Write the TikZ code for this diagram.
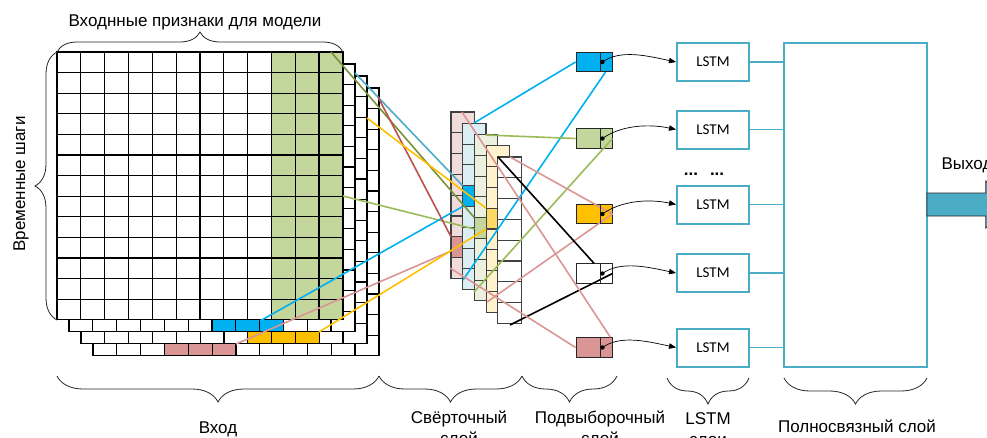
\documentclass[tikz,border=0pt]{standalone}
\usepackage{fontspec}
\setmainfont{Liberation Sans}
\newfontfamily\lstmfont{Carlito}
\usepackage{xcolor}
\usetikzlibrary{positioning,arrows.meta,decorations.pathreplacing}

\definecolor{cellgreen}{RGB}{195,214,155}
\definecolor{cellblue}{RGB}{0,176,240}
\definecolor{cellyellow}{RGB}{255,192,0}
\definecolor{cellpink}{RGB}{217,150,148}
\definecolor{lstmblue}{RGB}{75,172,198}
\definecolor{linkolive}{RGB}{119,147,60}
\definecolor{linkgreen}{RGB}{155,187,89}
\definecolor{linkred}{RGB}{192,80,77}
\definecolor{convpink}{RGB}{242,220,219}
\definecolor{convblue}{RGB}{218,238,243}
\definecolor{convgreen}{RGB}{235,241,222}
\definecolor{convyellow}{RGB}{255,242,204}
\definecolor{convgold}{RGB}{255,217,102}

\begin{document}
\begin{tikzpicture}[x=1pt,y=-1pt,font=\fontsize{17}{21}\selectfont]
    \tikzstyle{gridline}=[line width=1.3pt,black,line cap=rect]
    \tikzstyle{convline}=[line width=1.1pt,black!75]
    \tikzstyle{link}=[line width=1.6pt]
    \tikzstyle{poolbox}=[draw=black!85,line width=0.9pt,minimum width=36pt,minimum height=19.5pt,inner sep=0pt]
    \tikzstyle{lstmbox}=[draw=lstmblue,line width=2pt,minimum width=72pt,minimum height=38pt,font=\lstmfont\fontsize{15}{18}\selectfont]
    \tikzstyle{bracket}=[decorate,black!85,line width=0.8pt]
    \tikzstyle{caption}=[anchor=north,align=center,inner sep=0pt]

    \useasboundingbox (0,0) rectangle (987,437);
    \clip (0,0) rectangle (987,437);

    \def\cw{23.83}
    \def\ch{20.6}

    % input: four feature maps, back to front
    \foreach \k/\cfrom/\cto/\rfrom/\col in {3/3/5/12/cellpink, 2/7/9/12/cellyellow, 1/6/8/12/cellblue, 0/9/11/0/cellgreen} {
        \begin{scope}[shift={(12*\k,12*\k)}]
            \fill[white] (57,52) rectangle ({57+12*\cw},{52+13*\ch});
            \foreach \c in {\cfrom,...,\cto}
                \foreach \r in {\rfrom,...,12}
                    \fill[\col] ({57+\c*\cw},{52+\r*\ch}) rectangle ++(\cw,\ch);
            \foreach \c in {0,...,12}
                \draw[gridline] ({57+\c*\cw},52) -- ++(0,{13*\ch});
            \foreach \r in {0,...,13}
                \draw[gridline] (57,{52+\r*\ch}) -- ++({12*\cw},0);
        \end{scope}
    }

    % convolution stack
    \foreach \j/\fillc/\hrow/\hcol in {0/convpink/6/cellpink, 1/convblue/3/cellblue, 2/convgreen/4/cellgreen, 3/convyellow/3/convgold, 4/white/0/white} {
        \begin{scope}[shift={(11.7*\j,11.25*\j)}]
            \fill[\fillc] (451,112) rectangle ++(23.3,166.4);
            \fill[\hcol] (451,{112+\hrow*20.8}) rectangle ++(23.3,20.8);
            \foreach \r in {1,...,7}
                \draw[convline] (451,{112+\r*20.8}) -- ++(23.3,0);
            \draw[convline] (451,112) rectangle ++(23.3,166.4);
        \end{scope}
    }

    % pooling cells and LSTM blocks
    \foreach \i/\py/\ly/\pc in {1/62/62/cellblue, 2/138.5/129.5/cellgreen, 3/214/204.5/cellyellow, 4/273.5/273/white, 5/347.5/347.5/cellpink} {
        \node[poolbox,fill=\pc] (p\i) at (594,\py) {};
        \node[lstmbox] (l\i) at (713,\ly) {LSTM};
    }
    \node[draw=lstmblue,line width=1.5pt,minimum width=143pt,minimum height=324pt] (fc) at (855.5,205) {};
    \node[anchor=base] (dots) at (704,175) {\textbf{...}\hspace{12pt}\textbf{...}};

    % link end points on the maps
    \coordinate (ig1) at (331,52);
    \coordinate (ig2) at (343,196);
    \coordinate (ib1) at (355,73);
    \coordinate (ib2) at (260,321);
    \coordinate (ip1) at (378,97);
    \coordinate (ip2) at (236,344);
    \coordinate (iy1) at (367,118);
    \coordinate (iy2) at (319,332);

    \coordinate (cg1) at (474.4,217.7);
    \coordinate (cg2) at (474.4,229);
    \coordinate (cb1) at (462.7,185.7);
    \coordinate (cb2) at (462.7,206.5);
    \coordinate (cp1) at (451,236.8);
    \coordinate (cp2) at (451,251);
    \coordinate (cy1) at (486.1,208.2);
    \coordinate (cy2) at (486.1,229);

    \coordinate (ob1) at (474,123);
    \coordinate (ob2) at (463,280);
    \coordinate (og1) at (486,135);
    \coordinate (og2) at (474,292);
    \coordinate (oy1) at (510,157);
    \coordinate (oy2) at (487,302);
    \coordinate (ow1) at (498,157);
    \coordinate (ow2) at (510,325);
    \coordinate (op1) at (462,112);
    \coordinate (op2) at (450,268);

    % input -> convolution
    \draw[link,linkolive] (ig1) -- (cg1);
    \draw[link,linkgreen] (ig2) -- (cg2);
    \draw[link,lstmblue] (ib1) -- (cb1);
    \draw[link,cellblue] (ib2) -- (cb2);
    \draw[link,linkred] (ip1) -- (cp1);
    \draw[link,cellpink] (ip2) -- (cp2);
    \draw[link,cellyellow] (iy1) -- (cy1);
    \draw[link,cellyellow] (iy2) -- (cy2);

    % convolution -> pooling
    \draw[link,cellblue] (ob1) -- (p1.west);
    \draw[link,cellblue] (ob2) -- ([xshift=-7pt]p1.south east);
    \draw[link,linkgreen] (og1) -- (p2.west);
    \draw[link,linkgreen] (og2) -- (p2.east);
    \draw[link,cellpink] (oy1) -- (p3.east);
    \draw[link,cellpink] (oy2) -- (p3.east);
    \draw[link,black] (ow1) -- (p4.north);
    \draw[link,black] (ow2) -- (p4.east);
    \draw[link,cellpink] (op1) -- ([xshift=-2pt]p5.north east);
    \draw[link,cellpink] (op2) -- (p5.west);

    \foreach \i in {1,...,5} {
        \draw[black!85,line width=0.9pt] ([xshift=-12pt]p\i.north east) -- ([xshift=-12pt]p\i.south east);
        \fill ([xshift=-10pt]p\i.east) circle (2.2pt);
        \draw[-{Triangle[length=7pt,width=5.5pt]},line width=0.7pt] ([xshift=-10pt]p\i.east) .. controls +(18,-13) and +(-28,-6) .. (l\i.west);
        \draw[lstmblue,line width=1.8pt] (l\i.east) -- (l\i.east -| fc.west);
    }

    % output
    \draw[black!85,line width=0.8pt,fill=lstmblue] (927,193) -- (985.8,193) -- (985.8,181) -- (1010,204.5) -- (985.8,228) -- (985.8,216) -- (927,216) -- cycle;
    \node[anchor=base west] (outlabel) at (938,169) {Выход};

    % braces and captions
    \draw[bracket,decoration={brace,amplitude=20pt}] (57,52) -- (343,52);
    \draw[bracket,decoration={brace,amplitude=22pt}] (57,320) -- (57,52);
    \node[anchor=base] (featlabel) at (195,26) {Входнные признаки для модели};
    \node[rotate=90,anchor=base] (steplabel) at (25,184) {Временные шаги};

    \draw[bracket,decoration={brace,amplitude=26pt}] (379,376) -- (57,376);
    \draw[bracket,decoration={brace,amplitude=26pt}] (522,376) -- (379,376);
    \draw[bracket,decoration={brace,amplitude=26pt}] (617,376) -- (522,376);
    \draw[bracket,decoration={brace,amplitude=26pt}] (749,378) -- (667,378);
    \draw[bracket,decoration={brace,amplitude=26pt}] (927,378) -- (784,378);

    \node[anchor=base] (inlabel) at (218,433) {Вход};
    \node[caption] (convlabel) at (459,410.5) {Свёрточный\\слой};
    \node[caption] (poollabel) at (600,410.5) {Подвыборочный\\слой};
    \node[caption] (lstmlabel) at (708,412) {LSTM\\слои};
    \node[anchor=base] (fclabel) at (857,432) {Полносвязный слой};
\end{tikzpicture}
\end{document}
